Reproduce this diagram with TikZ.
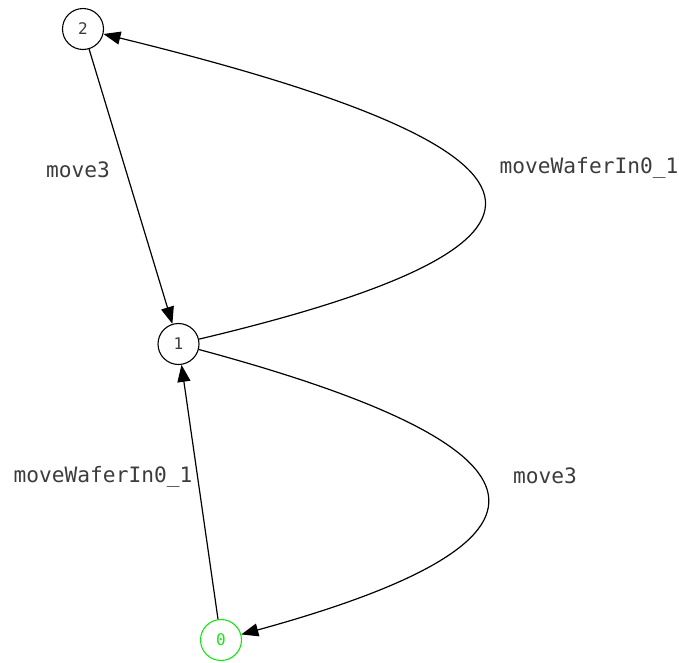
\documentclass[tikz,border=0pt]{standalone}
\usepackage{fontspec}
\setmonofont{DejaVu Sans Mono}
\usetikzlibrary{arrows.meta}
\definecolor{lblgray}{RGB}{60,60,60}
\definecolor{startgreen}{RGB}{20,230,20}
\tikzset{
  state/.style={circle,draw=black,line width=1.1pt,minimum size=41pt,inner sep=0pt,
    font=\ttfamily\fontsize{16}{18}\selectfont,text=lblgray},
  startstate/.style={state,draw=startgreen,text=startgreen},
  edge/.style={line width=1.2pt,-{Triangle[length=17pt,width=13pt]}},
  elabel/.style={font=\ttfamily\fontsize{21.2}{24}\selectfont,text=lblgray,inner sep=0pt}
}
\begin{document}
\begin{tikzpicture}[x=1pt,y=-1pt]
\useasboundingbox (0,0) rectangle (679,662);
\node[state] (n2) at (83,29) {2};
\node[state] (n1) at (178.5,344) {1};
\node[startstate] (n0) at (221,640) {0};
\draw[edge] (n2) -- (n1);
\draw[edge] (n0) -- (n1);
\draw[edge] (n1) .. controls (600,244) and (586,152) .. (n2);
\draw[edge] (n1) .. controls (572,450) and (578,542) .. (n0);
\node[elabel] (l1) at (78,170) {move3};
\node[elabel] (l2) at (589,168) {moveWaferIn0\_1};
\node[elabel] (l3) at (103,477) {moveWaferIn0\_1};
\node[elabel] (l4) at (545,476) {move3};
\end{tikzpicture}
\end{document}
